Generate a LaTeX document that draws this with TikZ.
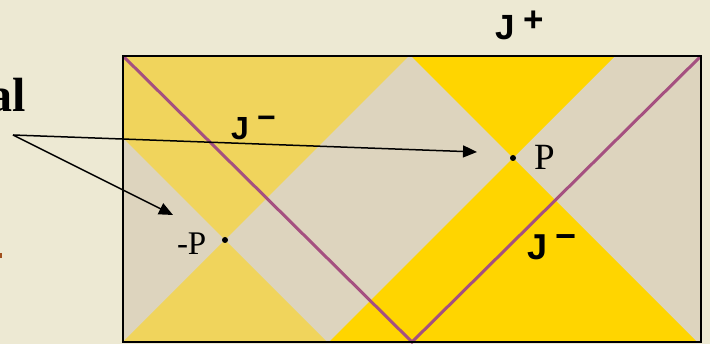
\documentclass[tikz,border=0pt]{standalone}
\usepackage{fontspec}
\setmainfont{Liberation Serif}
\newfontfamily\jsans{Liberation Sans}
\usetikzlibrary{arrows.meta}
\definecolor{bg}{RGB}{237,233,211}
\definecolor{sand}{RGB}{221,212,190}
\definecolor{gold}{RGB}{255,213,0}
\definecolor{hatchy}{RGB}{240,212,92}
\definecolor{plum}{RGB}{165,80,128}
\definecolor{rust}{RGB}{160,80,30}
\begin{document}
\begin{tikzpicture}[x=1pt,y=-1pt,
  lbl/.style={inner sep=0pt, outer sep=0pt},
  jA/.style={lbl, font=\jsans\bfseries\fontsize{35}{35}\selectfont},
  jB/.style={lbl, font=\jsans\bfseries\fontsize{32}{32}\selectfont},
  jC/.style={lbl, font=\jsans\bfseries\fontsize{36}{36}\selectfont},
  ptxt/.style={lbl},
  dotnode/.style={circle, fill=black, inner sep=0pt, minimum size=6pt},
  ray/.style={line width=1.5pt, -{Triangle[length=14pt,width=12pt]}},
  worldline/.style={plum, line width=3pt},
  frame/.style={draw=black, line width=2pt}]
\useasboundingbox (0,0) rectangle (710,344);
\fill[bg] (0,0) rectangle (710,344);
\coordinate (tl) at (123,56);
\coordinate (br) at (701,342);
\coordinate (tr) at (701,56);
\coordinate (bm) at (412,342);
\fill[sand] (tl) rectangle (br);
\begin{scope}
  \clip (tl) rectangle (br);
  \fill[gold] (513,158) -- (411,56) -- (615,56) -- cycle;
  \fill[gold] (513,158) -- (329,342) -- (697,342) -- cycle;
  \fill[hatchy] (225,240) -- (41,56) -- (409,56) -- cycle;
  \fill[hatchy] (225,240) -- (123,342) -- (327,342) -- cycle;
\end{scope}
\draw[worldline] (tl) -- (bm) -- (tr);
\draw[frame] (tl) rectangle (br);
\node[dotnode] (P) at (513,158) {};
\node[dotnode] (mP) at (225,240) {};
% labels
\node[jA, anchor=base west] (jp) at (495,40) {J};
\node[jA, anchor=base] (jps) at (534,32) {+};
\node[jB, anchor=base west] (jm1) at (231,140) {J};
\node[jB, anchor=base] (jm1s) at (266.5,129) {−};
\node[jC, anchor=base west] (jm2) at (527,260) {J};
\node[jC, anchor=base] (jm2s) at (566.5,249) {−};
\node[ptxt, font=\fontsize{37}{37}\selectfont, anchor=base west] (Plbl) at (534,170) {P};
\node[ptxt, font=\fontsize{33}{33}\selectfont, anchor=base west] (mPlbl) at (177,255) {-P};
\node[ptxt, font=\bfseries\fontsize{48}{48}\selectfont, anchor=base east] (al) at (26,112) {al};
\fill[rust] (0,253) rectangle (2,258);
% arrows
\coordinate (src) at (13,135);
\coordinate (tipP) at (477,152);
\coordinate (tipM) at (173,215);
\draw[ray] (src) -- (tipP);
\draw[ray] (src) -- (tipM);
\end{tikzpicture}
\end{document}
